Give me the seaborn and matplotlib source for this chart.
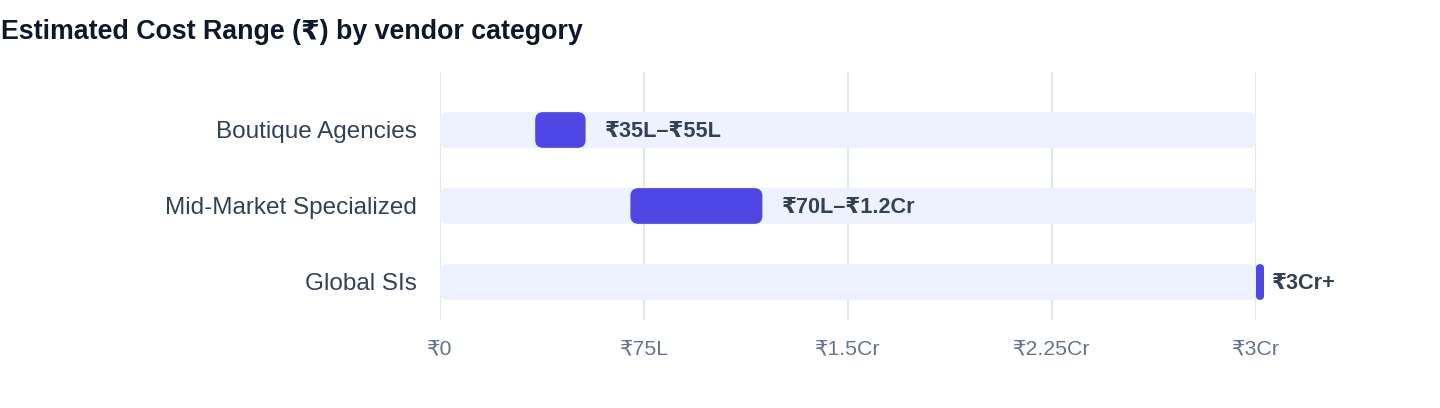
import matplotlib
matplotlib.use("Agg")
import matplotlib.pyplot as plt
from matplotlib.patches import FancyBboxPatch
import seaborn as sns
import pandas as pd

# data (values in lakhs of rupees)
categories = ["Boutique Agencies", "Mid-Market Specialized", "Global SIs"]
range_start = [35, 70, 300]
range_end = [55, 120, 300]
range_labels = ["₹35L–₹55L", "₹70L–₹1.2Cr", "₹3Cr+"]
axis_max = 300
tick_values = [0, 75, 150, 225, 300]
tick_labels = ["₹0", "₹75L", "₹1.5Cr", "₹2.25Cr", "₹3Cr"]

BAR = "#4F46E5"
TRACK = "#EEF2FF"
GRID = "#E2E8F0"

sns.set_style("white")
plt.rcParams["font.family"] = ["Liberation Sans", "DejaVu Sans"]

W, H = 1440, 408
fig = plt.figure(figsize=(W / 100, H / 100), dpi=100)
ax = fig.add_axes([440 / W, 1 - 320 / H, 816 / W, 248 / H])

df = pd.DataFrame({"category": categories, "start": range_start, "end": range_end,
                   "track": [axis_max] * len(categories)})

# background tracks
sns.barplot(data=df, x="track", y="category", color=TRACK, width=0.47,
            saturation=1, ax=ax, zorder=2)
ax.set_xlim(0, axis_max)
ax.set_ylim(2.5, -0.763)

fig.canvas.draw()
px_x = ax.transData.transform((1, 0))[0] - ax.transData.transform((0, 0))[0]
px_y = abs(ax.transData.transform((0, 1))[1] - ax.transData.transform((0, 0))[1])


def rounded(x0, y0, w, h, color, radius_px, z):
    w_px = w * px_x
    h_px = h * px_y
    r_px = min(radius_px, w_px / 2, h_px / 2)
    rs = r_px / px_x
    aspect = (r_px / px_y) / rs
    p = FancyBboxPatch((x0, y0), w, h, boxstyle=f"round,pad=0,rounding_size={rs}",
                       mutation_aspect=aspect, facecolor=color, edgecolor="none",
                       zorder=z, clip_on=False)
    ax.add_patch(p)


# swap seaborn's square bars for rounded ones
tracks = list(ax.patches)
for p in tracks:
    x0, y0, w, h = p.get_x(), p.get_y(), p.get_width(), p.get_height()
    p.remove()
    rounded(x0, y0, w, h, TRACK, 7, 2)

min_w = 8 / px_x
inset = 4 / px_x
bar_h = 0.47
for i, (s, e, lab) in enumerate(zip(range_start, range_end, range_labels)):
    w = max(e - s - inset, min_w)
    rounded(s, i - bar_h / 2, w, bar_h, BAR, 8, 3)
    ax.annotate(lab, xy=(e, i), xytext=(11.2, -1.2), textcoords="offset points",
                ha="left", va="center", fontsize=15.6, fontweight="bold",
                color="#334155", annotation_clip=False)

ax.set_xticks(tick_values)
ax.set_xticklabels(tick_labels)
ax.grid(axis="x", color=GRID, linewidth=1.5, zorder=0)
ax.grid(axis="y", visible=False)
ax.set_axisbelow(True)
sns.despine(ax=ax, left=True, bottom=True, top=True, right=True)
ax.tick_params(axis="x", length=0, pad=14, labelsize=15.3, labelcolor="#64748B")
ax.tick_params(axis="y", length=0, pad=17, labelsize=17.5, labelcolor="#334155")
ax.set_xlabel("")
ax.set_ylabel("")

fig.text(1 / W, 1 - 32 / H, "Estimated Cost Range (₹) by vendor category",
         fontsize=19.3, fontweight="bold", color="#0F172A", ha="left", va="center")

fig.savefig("out.png", dpi=100)
